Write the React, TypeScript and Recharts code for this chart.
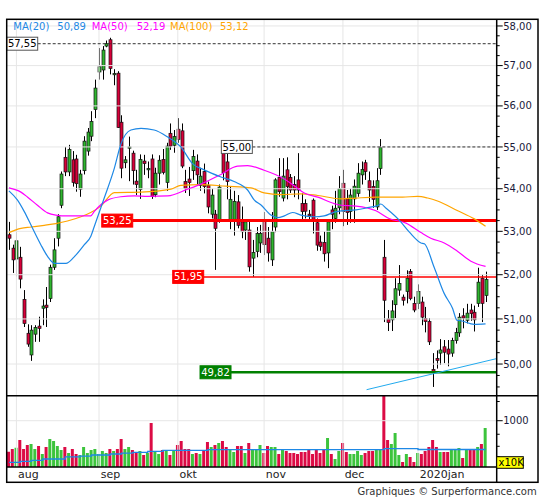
import React from "react";
import {
  ComposedChart,
  Bar,
  Line,
  XAxis,
  YAxis,
  ReferenceLine,
  Cell,
} from "recharts";

const FONT = "'DejaVu Sans', Verdana, sans-serif";
const GREEN = "#2fb52f";
const RED = "#d7003a";
const VOL_GREEN = "#3cc43c";
const VOL_RED = "#dc0b45";
const MA20_COLOR = "#1e88e5";
const MA50_COLOR = "#ff00ff";
const MA100_COLOR = "#ffa500";
const GRID = "#e6e6e6";
const AXIS_TEXT = "#1a1a3a";

// daily candles, late Jul 2019 .. late Jan 2020
const opens = [
  52.92, 52.61, 52.36, 52.4, 51.44, 50.68, 50.2, 50.66, 50.84, 51.24,
  51.31, 51.46, 52.17, 52.84, 53.61, 54.75, 54.4, 54.69, 54.71, 53.99,
  54.43, 54.9, 55.26, 55.91, 56.84, 56.89, 57.49, 57.65, 56.77, 56.81,
  55.6, 54.62, 54.97, 54.85, 54.18, 53.98, 54.66, 54.45, 54.71, 53.86,
  54.37, 54.7, 54.15, 55.33, 55.04, 55.43, 55.39, 54.17, 54.23, 54.43,
  54.66, 54.08, 54.41, 54.08, 53.4, 53.4, 53.26, 55.03, 54.64, 53.25,
  53.28, 53.69, 53.22, 53.03, 53.03, 52.38, 52.53, 52.73, 53.26, 52.84,
  52.34, 53.1, 54.27, 53.78, 54.45, 54.27, 54.1, 54.21, 53.65, 53.65,
  53.4, 53.73, 53.2, 52.75, 52.74, 52.5, 53.5, 53.3, 53.55, 54.13,
  53.76, 53.46, 53.76, 53.89, 54.33, 54.62, 54.19, 54.05, 53.57, 54.48,
  52.4, 51.0, 50.98, 51.32, 51.65, 51.49, 51.62, 52.07, 51.35, 51.35,
  51.38, 51.01, 50.94, 49.88, 50.12, 50.24, 50.38, 50.33, 50.24, 50.52,
  50.69, 51.07, 50.97, 51.2, 51.15, 51.35, 51.92, 51.53,
];
const highs = [
  53.22, 52.69, 53.26, 52.64, 51.65, 50.88, 50.86, 50.86, 51.05, 51.44,
  51.72, 52.23, 52.84, 53.4, 54.41, 55.0, 55.05, 54.9, 54.81, 54.45,
  55.26, 55.46, 55.87, 56.65, 57.44, 57.49, 57.63, 57.7, 56.91, 56.86,
  55.77, 54.78, 55.25, 54.91, 54.45, 54.82, 54.81, 54.65, 54.82, 54.5,
  54.8, 54.95, 55.1, 55.57, 55.41, 55.7, 55.57, 54.45, 54.52, 54.93,
  54.82, 54.5, 54.6, 54.17, 54.0, 53.5, 54.1, 55.1, 54.92, 54.05,
  53.95, 53.85, 53.58, 53.26, 53.22, 52.8, 53.1, 53.15, 53.45, 53.1,
  53.45, 54.25, 54.73, 54.73, 54.75, 54.35, 54.3, 54.85, 53.89, 53.75,
  53.5, 53.77, 53.3, 52.9, 53.0, 53.26, 53.6, 53.95, 54.3, 54.45,
  53.97, 54.0, 54.22, 54.61, 54.65, 54.69, 54.41, 54.2, 54.49, 55.19,
  52.8, 51.2, 51.42, 51.92, 52.22, 51.55, 52.1, 52.13, 51.5, 51.78,
  51.5, 51.27, 51.02, 50.24, 50.3, 50.55, 50.53, 50.53, 50.58, 50.8,
  51.13, 51.24, 51.34, 51.34, 51.3, 52.16, 52.0, 52.07,
];
const lows = [
  52.57, 52.04, 51.96, 51.69, 50.82, 50.38, 50.07, 50.49, 50.49, 50.86,
  50.82, 51.38, 52.11, 52.65, 53.54, 54.3, 54.3, 54.05, 53.93, 53.81,
  54.34, 54.79, 55.14, 55.7, 56.65, 56.65, 57.46, 56.78, 56.51, 55.46,
  54.25, 54.49, 54.18, 54.1, 53.85, 53.76, 54.33, 54.25, 53.76, 53.8,
  54.1, 54.34, 53.95, 54.93, 54.86, 55.1, 54.49, 53.9, 53.83, 54.21,
  54.09, 53.95, 53.89, 53.42, 53.3, 52.11, 53.2, 54.2, 53.75, 53.05,
  52.9, 53.07, 52.84, 52.8, 52.07, 51.95, 52.4, 52.5, 52.45, 52.3,
  52.2, 52.98, 53.81, 53.7, 53.75, 53.9, 53.8, 53.75, 53.22, 53.3,
  53.25, 52.95, 52.55, 52.55, 52.3, 52.15, 53.05, 53.2, 53.4, 53.12,
  53.15, 53.2, 53.2, 53.81, 54.1, 54.21, 53.69, 53.55, 53.5, 54.33,
  50.93, 50.73, 50.73, 51.02, 51.52, 51.3, 51.35, 51.42, 51.15, 51.22,
  50.86, 50.7, 50.42, 49.5, 49.9, 49.98, 50.02, 49.95, 50.16, 50.45,
  50.6, 50.79, 50.9, 50.96, 50.72, 51.27, 50.93, 51.38,
];
const closes = [
  52.84, 52.34, 52.78, 51.9, 50.9, 50.44, 50.75, 50.81, 50.79, 51.29,
  51.26, 52.17, 52.57, 53.34, 54.35, 54.4, 54.94, 54.15, 54.12, 54.35,
  55.14, 55.36, 55.62, 56.44, 56.97, 57.39, 57.55, 56.93, 56.8, 55.47,
  54.49, 54.69, 55.0, 54.43, 54.1, 54.7, 54.6, 54.48, 53.82, 54.37,
  54.68, 54.39, 55.02, 55.02, 55.25, 55.18, 54.54, 54.01, 54.15, 54.77,
  54.33, 54.3, 54.05, 53.57, 53.85, 53.07, 54.04, 54.38, 54.17, 53.75,
  53.7, 53.14, 52.99, 53.22, 52.18, 52.51, 52.95, 52.95, 52.69, 52.5,
  52.99, 54.21, 53.93, 54.3, 54.05, 53.97, 53.97, 53.97, 53.46, 53.47,
  53.36, 53.26, 52.68, 52.65, 52.48, 53.22, 53.4, 53.54, 54.0, 53.46,
  53.44, 53.85, 54.06, 54.37, 54.46, 54.41, 53.97, 53.75, 54.19, 54.99,
  51.42, 50.92, 51.18, 51.68, 51.8, 51.42, 51.92, 51.46, 51.2, 51.62,
  51.04, 50.94, 50.49, 49.82, 50.08, 50.31, 50.26, 50.22, 50.52, 50.7,
  51.04, 51.02, 51.13, 51.12, 50.98, 51.83, 51.35, 51.89,
];
// volume, in units of 10K
const volumes = [
  110, 151, 174, 340, 151, 226, 247, 151, 206, 79,
  187, 366, 315, 206, 135, 187, 91, 151, 79, 67,
  187, 91, 135, 151, 79, 119, 91, 151, 119, 151,
  366, 151, 187, 135, 105, 119, 67, 91, 903, 105,
  79, 135, 119, 67, 119, 226, 315, 151, 151, 79,
  91, 79, 119, 292, 187, 226, 269, 315, 187, 151,
  105, 206, 206, 91, 269, 151, 151, 226, 91, 206,
  187, 187, 79, 151, 119, 91, 91, 79, 105, 105,
  135, 79, 151, 91, 151, 392, 79, 30, 119, 269,
  105, 79, 79, 119, 67, 91, 119, 119, 151, 135,
  2352, 340, 247, 539, 67, 12, 79, 47, 12, 91,
  79, 119, 187, 340, 187, 105, 105, 105, 151, 135,
  168, 38, 135, 135, 135, 187, 247, 710,
];

// moving averages: [candle index, value]
const ma20Pts = [
  [0, 53.95], [2.3, 53.73], [4.1, 53.46], [6.3, 53.07], [8.5, 52.69], [10.3, 52.42],
  [12.1, 52.26], [15.2, 52.26], [17.4, 52.41], [20.1, 52.69], [21.8, 52.88], [22.7, 53.1],
  [25.4, 53.78], [28.1, 54.49], [29.8, 55.06], [32.5, 55.41], [35.2, 55.45], [38.7, 55.41],
  [42.3, 55.24], [45.8, 55.0], [48.9, 54.6], [52, 54.45], [56.5, 54.28], [60, 54.17],
  [63.6, 53.97], [65.4, 53.73], [67.1, 53.62], [69.8, 53.38], [71.6, 53.32], [73.4, 53.36],
  [75.6, 53.44], [77.8, 53.38], [81.3, 53.34], [84, 53.36], [86.7, 53.45], [88.5, 53.48],
  [92.5, 53.5], [96, 53.56], [98.2, 53.6], [99.1, 53.64], [100.5, 53.54], [104, 53.26],
  [106.7, 52.98], [109.8, 52.73], [110.7, 52.71], [113.3, 52.17], [116, 51.57], [118.2, 51.24],
  [119.4, 50.97], [120.4, 50.96], [124, 50.88], [127, 50.89],
];
const ma50Pts = [
  [0, 54.02], [3.2, 53.92], [5, 53.8], [7.6, 53.61], [10.3, 53.43], [12.5, 53.38],
  [15.6, 53.36], [21.8, 53.36], [22.7, 53.46], [26.3, 53.73], [29.8, 53.81], [33.4, 53.83],
  [37, 53.82], [42.3, 53.83], [47.6, 53.99], [51.2, 54.11], [56.5, 54.34], [60.9, 54.54],
  [63.6, 54.55], [68, 54.44], [73.4, 54.23], [76, 54.07], [78.7, 53.9], [82.3, 53.8],
  [86.7, 53.65], [88.5, 53.61], [92.5, 53.59], [97.8, 53.48], [101.3, 53.3], [105.8, 53.19],
  [109.8, 52.97], [112.4, 52.84], [116, 52.73], [119.5, 52.54], [123.1, 52.31], [127, 52.19],
];
const ma100Pts = [
  [0, 52.97], [3.2, 53.07], [5.9, 53.1], [9.4, 53.14], [12.5, 53.18], [15.6, 53.24],
  [19.2, 53.34], [21.8, 53.44], [24.5, 53.59], [28.1, 53.91], [35.2, 53.92], [43.2, 53.99],
  [45.8, 54.08], [51.2, 54.1], [57.8, 54.06], [64.5, 54.02], [68, 53.9], [72.5, 53.86],
  [77.8, 53.88], [82.3, 53.84], [88.5, 53.76], [92.5, 53.78], [97.8, 53.8], [104.9, 53.8],
  [108.9, 53.82], [111.6, 53.78], [114.2, 53.71], [119.6, 53.48], [124, 53.29], [127, 53.12],
];
const volMaPts = [
  [0, 10], [3, 15], [6, 21], [9, 30], [15, 47], [19, 56], [22, 67], [27, 79],
  [30, 91], [33, 100], [37, 115], [41, 130], [53, 140], [100, 158], [109, 143], [127, 143],
];

const monthTicks = [2, 24, 45, 68, 89, 109];
const monthLabels = ["aug", "sep", "okt", "nov", "dec", "2020jan"];
const priceMajor = [50, 51, 52, 53, 54, 55, 56, 57, 58];
const priceTicks = [49.5, 49.75, ...priceMajor.flatMap((p) => [p, p + 0.25, p + 0.5, p + 0.75])].filter(
  (p) => p <= 58
);
const volTicks = [50, 200, 500, 1000, 2000];

// trend line ends, and annotated price levels
const trendStart = { x: 95.3, y: 49.44 };
const trendEnd = { x: 129.97, y: 50.12 };
const X_DOMAIN = [-0.59, 129.97];
const PRICE_DOMAIN = [49.31, 58.17];

const candles = opens.map((o, i) => ({
  i,
  o,
  h: highs[i],
  l: lows[i],
  c: closes[i],
  range: [lows[i], highs[i]],
  vol: volumes[i],
}));
const toPts = (pts: number[][]) => pts.map(([i, v]) => ({ i, v }));

function Candle(props: any) {
  const { x, y, width, height, payload } = props;
  if (!payload) return null;
  const { o, h, l, c } = payload;
  const cx = Math.round(x + width / 2) + 0.5;
  const top = Math.min(y, y + height);
  const span = Math.abs(height);
  const lr = Math.log(h) - Math.log(l);
  const py = (p: number) => top + (lr > 0 ? (span * (Math.log(h) - Math.log(p))) / lr : 0);
  const bTop = py(Math.max(o, c));
  const bBot = py(Math.min(o, c));
  return (
    <g>
      <line x1={cx} x2={cx} y1={top} y2={top + span} stroke="#000" strokeWidth={1} />
      <rect
        x={cx - 1.5}
        y={bTop}
        width={3}
        height={Math.max(bBot - bTop, 1)}
        fill={c >= o ? GREEN : RED}
        stroke="#111"
        strokeWidth={0.7}
      />
    </g>
  );
}

function PriceTick(props: any) {
  const { x, y, payload } = props;
  const v = payload.value;
  const major = Math.abs(v - Math.round(v)) < 1e-6;
  return (
    <g>
      <line x1={x} x2={x + (major ? 6 : 3)} y1={y} y2={y} stroke="#000" strokeWidth={1} />
      {major && (
        <text x={x + 6.5} y={y} dy="0.36em" fontSize={10} fontFamily={FONT} fill={AXIS_TEXT}>
          {v.toFixed(2).replace(".", ",")}
        </text>
      )}
    </g>
  );
}

function VolTick(props: any) {
  const { x, y, payload } = props;
  const major = payload.value === 1000;
  return (
    <g>
      <line x1={x} x2={x + (major ? 6 : 3)} y1={y} y2={y} stroke="#000" strokeWidth={1} />
      {major && (
        <text x={x + 6.5} y={y} dy="0.36em" fontSize={10} fontFamily={FONT} fill={AXIS_TEXT}>
          1000
        </text>
      )}
    </g>
  );
}

function MonthTick(props: any) {
  const { x, y, payload } = props;
  const k = monthTicks.indexOf(payload.value);
  return (
    <text x={x + 1.7} y={y + 11.3} fontSize={11} fontFamily={FONT} fill="#222">
      {monthLabels[k]}
    </text>
  );
}

const boxLabel = (text: string, fill: string, stroke: string, color: string) => (props: any) => {
  const vb = props.viewBox || {};
  const lx = vb.x ?? Math.min(vb.x1, vb.x2);
  const ly = vb.y ?? vb.y1;
  const w = 31;
  const h = 13;
  return (
    <g>
      <rect x={lx - w} y={ly - h / 2} width={w} height={h} fill={fill} stroke={stroke} strokeWidth={1} />
      <text
        x={lx - w / 2}
        y={ly}
        dy="0.36em"
        textAnchor="middle"
        fontSize={10}
        fontFamily={FONT}
        fill={color}
      >
        {text}
      </text>
    </g>
  );
};

const levels = [
  { from: 7.67, price: 57.55, label: "57,55", line: "#333", width: 1, dash: "3 2", box: "#fff", border: "#555", text: "#000" },
  { from: 64.86, price: 55.0, label: "55,00", line: "#333", width: 1, dash: "3 2", box: "#fff", border: "#555", text: "#000" },
  { from: 32.99, price: 53.25, label: "53,25", line: "#ff0000", width: 3, dash: undefined, box: "#ff0000", border: "#ff0000", text: "#fff" },
  { from: 51.9, price: 51.95, label: "51,95", line: "#ff0000", width: 1.5, dash: undefined, box: "#ff0000", border: "#ff0000", text: "#fff" },
  { from: 59.18, price: 49.82, label: "49,82", line: "#008000", width: 2.5, dash: undefined, box: "#008000", border: "#008000", text: "#fff" },
];

export default function App() {
  return (
    <div style={{ position: "absolute", left: 0, top: 0, width: 545, height: 500, background: "#fff" }}>
      <div style={{ position: "absolute", left: 0, top: 0 }}>
        <ComposedChart
          width={545}
          height={400}
          data={candles}
          margin={{ top: 19.3, right: 0, bottom: 4.3, left: 6.7 }}
        >
          <XAxis dataKey="i" type="number" domain={X_DOMAIN} allowDataOverflow hide />
          <YAxis
            orientation="right"
            type="number"
            scale="log"
            domain={PRICE_DOMAIN}
            allowDataOverflow
            ticks={priceTicks}
            interval={0}
            width={48.3}
            axisLine={false}
            tickLine={false}
            tickSize={0}
            tickMargin={0}
            tick={<PriceTick />}
          />
          {priceMajor.map((p) => (
            <ReferenceLine key={"h" + p} y={p} stroke={GRID} strokeWidth={1} />
          ))}
          {monthTicks.map((m) => (
            <ReferenceLine key={"v" + m} x={m} stroke={GRID} strokeWidth={1} />
          ))}
          {levels.map((lv) => (
            <ReferenceLine
              key={lv.label}
              segment={[
                { x: lv.from, y: lv.price },
                { x: X_DOMAIN[1], y: lv.price },
              ]}
              stroke={lv.line}
              strokeWidth={lv.width}
              strokeDasharray={lv.dash}
              label={boxLabel(lv.label, lv.box, lv.border, lv.text)}
            />
          ))}
          <ReferenceLine segment={[trendStart, trendEnd]} stroke="#22aaee" strokeWidth={1} />
          <Bar
            dataKey="range"
            barSize={3}
            isAnimationActive={false}
            shape={(p: any) => <Candle {...p} />}
          />
          <Line data={toPts(ma100Pts)} dataKey="v" type="monotone" stroke={MA100_COLOR} strokeWidth={1.2} dot={false} isAnimationActive={false} />
          <Line data={toPts(ma50Pts)} dataKey="v" type="monotone" stroke={MA50_COLOR} strokeWidth={1.2} dot={false} isAnimationActive={false} />
          <Line data={toPts(ma20Pts)} dataKey="v" type="monotone" stroke={MA20_COLOR} strokeWidth={1.2} dot={false} isAnimationActive={false} />
        </ComposedChart>
      </div>

      <div style={{ position: "absolute", left: 0, top: 390 }}>
        <ComposedChart
          width={545}
          height={92.3}
          data={candles}
          margin={{ top: 5.7, right: 0, bottom: 0, left: 6.7 }}
        >
          <XAxis
            dataKey="i"
            type="number"
            domain={X_DOMAIN}
            allowDataOverflow
            ticks={monthTicks}
            interval={0}
            height={15.3}
            axisLine={false}
            tickLine={false}
            tickSize={0}
            tickMargin={0}
            tick={<MonthTick />}
          />
          <YAxis
            orientation="right"
            type="number"
            scale="sqrt"
            domain={[0, 2372]}
            allowDataOverflow
            ticks={volTicks}
            interval={0}
            width={48.3}
            axisLine={false}
            tickLine={false}
            tickSize={0}
            tickMargin={0}
            tick={<VolTick />}
          />
          <ReferenceLine y={1000} stroke={GRID} strokeWidth={1} />
          {monthTicks.map((m) => (
            <ReferenceLine key={"vv" + m} x={m} stroke={GRID} strokeWidth={1} />
          ))}
          <Bar dataKey="vol" barSize={3} isAnimationActive={false}>
            {candles.map((d) => (
              <Cell key={d.i} fill={d.c >= d.o ? VOL_GREEN : VOL_RED} />
            ))}
          </Bar>
          <Line
            data={toPts(volMaPts)}
            dataKey="v"
            type="stepAfter"
            stroke={MA20_COLOR}
            strokeWidth={1.3}
            dot={false}
            isAnimationActive={false}
          />
        </ComposedChart>
      </div>

      <svg
        width={545}
        height={500}
        style={{ position: "absolute", left: 0, top: 0, pointerEvents: "none" }}
      >
        <rect x={6.7} y={19.3} width={531.3} height={463} fill="none" stroke="#000" strokeWidth={1.5} />
        <line x1={6.7} x2={538} y1={395.7} y2={395.7} stroke="#000" strokeWidth={1.5} />
        <line x1={6.7} x2={496.7} y1={467} y2={467} stroke="#000" strokeWidth={1.5} />
        <line x1={496.7} x2={496.7} y1={19.3} y2={482.3} stroke="#000" strokeWidth={1.5} />
        <text y={30.3} fontSize={10} fontFamily={FONT}>
          <tspan x={13.3} fill={MA20_COLOR}>MA(20)</tspan>
          <tspan x={57.3} fill={MA20_COLOR}>50,89</tspan>
          <tspan x={91.7} fill={MA50_COLOR}>MA(50)</tspan>
          <tspan x={136.7} fill={MA50_COLOR}>52,19</tspan>
          <tspan x={170} fill={MA100_COLOR}>MA(100)</tspan>
          <tspan x={220} fill={MA100_COLOR}>53,12</tspan>
        </text>
        <rect x={496.7} y={456.7} width={26.6} height={11.6} fill="#ffff00" stroke="#000" strokeWidth={1} />
        <text x={498.5} y={466} fontSize={10} fontFamily={FONT} fill="#000">
          x10K
        </text>
        <text x={536.7} y={494.5} textAnchor="end" fontSize={10} fontFamily={FONT} fill="#333">
          Graphiques © Surperformance.com
        </text>
      </svg>
    </div>
  );
}
